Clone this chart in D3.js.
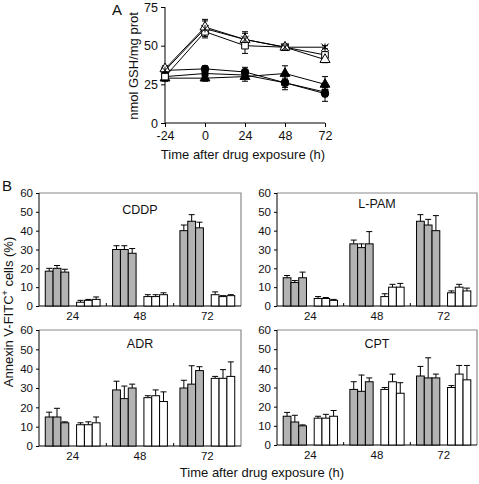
<!DOCTYPE html>
<html><head><meta charset="utf-8">
<script src="https://cdn.jsdelivr.net/npm/d3@7"></script>
<style>body{margin:0;background:#fff}svg{display:block;font-family:"Liberation Sans",Arial,sans-serif}</style>
</head><body>
<svg id="c" width="479" height="484"></svg>
<script>
// ---- Panel A data ----
const timesA = [-24, 0, 24, 48, 72];
const ticksAy = [0, 25, 50, 75];
const starVals = [34, 61, 54, 49, 49];
const starErr = [2, 6, 5, 1, 1];
const openSqVals = [30, 59, 50, 49, 44];
const openSqErr = [2, 3, 5, 1, 2];
const openTriVals = [35, 62, 54, 49, 41];
const openTriErr = [2, 4, 4, 1, 2];
const fCircVals = [34, 35, 33, 26, 19];
const fCircErr = [2, 2, 3, 4.5, 5];
const fTriVals = [29, 29, 30, 32, 25];
const fTriErr = [2, 2, 3, 5, 5];
const fSqVals = [30, 32, 31, 26, 20];
const fSqErr = [2, 2, 2, 3, 3];

// ---- Panel B data ----
const groupsB = ["24", "48", "72"];
const ticksBy = [0, 10, 20, 30, 40, 50, 60];
const cddpGray = [[18.5, 20, 18], [30, 30, 28], [40, 45, 41.5]];
const cddpGrayErr = [[1.5, 1.5, 1.5], [2, 2, 2.5], [3, 3.5, 3]];
const cddpWhite = [[2, 3, 3.5], [5, 5, 6], [6, 5, 5.5]];
const cddpWhiteErr = [[1, 0.5, 1.3], [1, 1, 1], [1.5, 0.5, 0.5]];
const lpamGray = [[15, 12.5, 15], [33, 31, 33], [45, 43, 40]];
const lpamGrayErr = [[1.2, 1, 3], [2, 2, 6.5], [3.5, 3, 8]];
const lpamWhite = [[4, 4, 3], [5, 10, 10], [7, 10, 8]];
const lpamWhiteErr = [[1, 0.5, 0.5], [1.5, 1.5, 2], [1, 1.5, 1.5]];
const adrGray = [[15, 15, 12], [29, 24.5, 30], [30, 32, 39]];
const adrGrayErr = [[2.5, 4.5, 0.5], [4.5, 6.5, 2], [4, 9.5, 2]];
const adrWhite = [[11, 11, 12], [25, 26, 23], [35, 35, 36]];
const adrWhiteErr = [[1, 1.5, 3], [1, 3, 5], [1, 4.5, 7.5]];
const cptGray = [[15, 12, 10], [29, 28, 33], [36, 35, 35]];
const cptGrayErr = [[2, 3.5, 0.5], [4, 8.5, 2], [5, 10.5, 2]];
const cptWhite = [[14, 14, 15], [29, 33, 27], [30, 37, 34]];
const cptWhiteErr = [[1, 2, 3], [1, 4, 5.5], [1, 4.5, 7.5]];

const svg = d3.select("#c");
const txt = "#111";

// ================= Panel A =================
(function(){
  const x = d3.scaleLinear().domain([-24, 72]).range([165, 325]);
  const y = d3.scaleLinear().domain([0, 75]).range([123, 7]);
  const g = svg.append("g");
  const ya = g.append("g").attr("transform", "translate(165,0)")
    .call(d3.axisLeft(y).tickValues(ticksAy).tickSize(4).tickPadding(3));
  const xa = g.append("g").attr("transform", "translate(0,123)")
    .call(d3.axisBottom(x).tickValues(timesA).tickFormat(d => String(d)).tickSize(4).tickPadding(4));
  [ya, xa].forEach(a => {
    a.select(".domain").attr("stroke", "#000");
    a.selectAll("line").attr("stroke", "#000");
    a.selectAll("text").attr("font-size", 12.5).attr("fill", txt).attr("font-family", "Liberation Sans, Arial, sans-serif");
  });
  ya.select(".domain").attr("d", "M0,123V7");
  xa.select(".domain").attr("d", "M165,0H325");

  const asterisk = {draw(ctx, size){ const r = Math.sqrt(size)/2; ctx.moveTo(-r,-r); ctx.lineTo(r,r); ctx.moveTo(r,-r); ctx.lineTo(-r,r); ctx.moveTo(0,-r); ctx.lineTo(0,r); }};
  const series = [
    {v: fSqVals, e: fSqErr, type: d3.symbolSquare, size: 36, fill: "#000"},
    {v: fTriVals, e: fTriErr, type: d3.symbolTriangle, size: 42, fill: "#000"},
    {v: fCircVals, e: fCircErr, type: d3.symbolCircle, size: 44, fill: "#000"},
    {v: openSqVals, e: openSqErr, type: d3.symbolSquare, size: 44, fill: "#fff"},
    {v: openTriVals, e: openTriErr, type: d3.symbolTriangle, size: 44, fill: "#fff"},
    {v: starVals, e: starErr, type: asterisk, size: 56, fill: "none"}
  ];
  const line = d3.line().x((d,i) => x(timesA[i])).y(d => y(d));
  series.forEach(s => {
    g.append("path").attr("d", line(s.v)).attr("fill", "none").attr("stroke", "#000").attr("stroke-width", 1);
  });
  series.forEach(s => {
    s.v.forEach((v, i) => {
      const cx = x(timesA[i]);
      const y1 = y(v + s.e[i]), y0 = y(v - s.e[i]);
      g.append("path").attr("d", `M${cx},${y0}V${y1}M${cx-3},${y1}H${cx+3}M${cx-3},${y0}H${cx+3}`)
        .attr("stroke", "#000").attr("fill", "none");
    });
  });
  series.forEach(s => {
    g.selectAll(null).data(s.v).join("path")
      .attr("transform", (d,i) => `translate(${x(timesA[i])},${y(d)})`)
      .attr("d", d3.symbol().type(s.type).size(s.size))
      .attr("fill", s.fill).attr("stroke", "#000").attr("stroke-width", 1);
  });
  g.append("text").attr("x", 112).attr("y", 15).attr("font-size", 15).attr("fill", txt).text("A");
  g.append("text").attr("transform", "translate(138,66) rotate(-90)").attr("text-anchor", "middle")
    .attr("font-size", 13).attr("fill", txt).text("nmol GSH/mg prot");
  g.append("text").attr("x", 243).attr("y", 159).attr("text-anchor", "middle")
    .attr("font-size", 13).attr("fill", txt).text("Time after drug exposure (h)");
})();

// ================= Panel B =================
function subplot(x0, x1, yT, yB, title, titleY, gray, grayErr, white, whiteErr){
  const g = svg.append("g");
  const xg = d3.scaleBand().domain(groupsB).range([x0, x1]);
  const slots = d3.scaleBand().domain(d3.range(7)).range([0, xg.bandwidth()]).paddingOuter(0.8).paddingInner(0);
  const y = d3.scaleLinear().domain([0, 60]).range([yB, yT]);
  g.append("path").attr("d", `M${x0},${yT}H${x1}V${yB}`).attr("fill", "none").attr("stroke", "#8a8a8a").attr("stroke-width", 1.2);
  const ya = g.append("g").attr("transform", `translate(${x0},0)`)
    .call(d3.axisLeft(y).tickValues(ticksBy).tickSize(3).tickPadding(3));
  const xa = g.append("g").attr("transform", `translate(0,${yB})`)
    .call(d3.axisBottom(xg).tickSize(0).tickPadding(6));
  [ya, xa].forEach(a => {
    a.select(".domain").attr("stroke", "#000");
    a.selectAll("line").attr("stroke", "#000");
    a.selectAll("text").attr("font-size", 11.5).attr("fill", txt).attr("font-family", "Liberation Sans, Arial, sans-serif");
  });
  ya.select(".domain").attr("d", `M0,${yB}V${yT}`);
  xa.select(".domain").attr("d", `M${x0},0H${x1}`);
  groupsB.slice(1).forEach(k => {
    g.append("line").attr("x1", xg(k)).attr("x2", xg(k)).attr("y1", yB).attr("y2", yB - 3).attr("stroke", "#000");
  });
  const bw = slots.bandwidth();
  groupsB.forEach((k, gi) => {
    const sets = [{vals: gray[gi], errs: grayErr[gi], off: 0, fill: "#b3b3b3"},
                  {vals: white[gi], errs: whiteErr[gi], off: 4, fill: "#fff"}];
    sets.forEach(s => {
      s.vals.forEach((v, j) => {
        const bx = xg(k) + slots(j + s.off);
        const cx = bx + bw / 2;
        const yt = y(v + s.errs[j]);
        g.append("path").attr("d", `M${cx},${y(v)}V${yt}M${cx-3},${yt}H${cx+3}`).attr("stroke", "#000").attr("fill", "none");
        g.append("rect").attr("x", bx).attr("y", y(v)).attr("width", bw).attr("height", yB - y(v))
          .attr("fill", s.fill).attr("stroke", "#000").attr("stroke-width", 1);
      });
    });
  });
  g.append("text").attr("x", (x0 + x1) / 2).attr("y", titleY).attr("text-anchor", "middle")
    .attr("font-size", 12.5).attr("fill", txt).text(title);
}

subplot(39, 241, 193, 306, "CDDP", 214, cddpGray, cddpGrayErr, cddpWhite, cddpWhiteErr);
subplot(277, 477, 193, 306, "L-PAM", 208, lpamGray, lpamGrayErr, lpamWhite, lpamWhiteErr);
subplot(39, 241, 330, 446, "ADR", 348, adrGray, adrGrayErr, adrWhite, adrWhiteErr);
subplot(277, 477, 330, 445, "CPT", 348, cptGray, cptGrayErr, cptWhite, cptWhiteErr);

svg.append("text").attr("x", 2).attr("y", 191).attr("font-size", 15).attr("fill", txt).text("B");
const yt = svg.append("text").attr("transform", "translate(13,312) rotate(-90)").attr("text-anchor", "middle")
  .attr("font-size", 13).attr("fill", txt);
yt.append("tspan").text("Annexin V-FITC");
yt.append("tspan").attr("font-size", 9).attr("dy", -5).text("+");
yt.append("tspan").attr("dy", 5).text(" cells (%)");
svg.append("text").attr("x", 262).attr("y", 477).attr("text-anchor", "middle")
  .attr("font-size", 13).attr("fill", txt).text("Time after drug exposure (h)");
</script>
</body></html>
